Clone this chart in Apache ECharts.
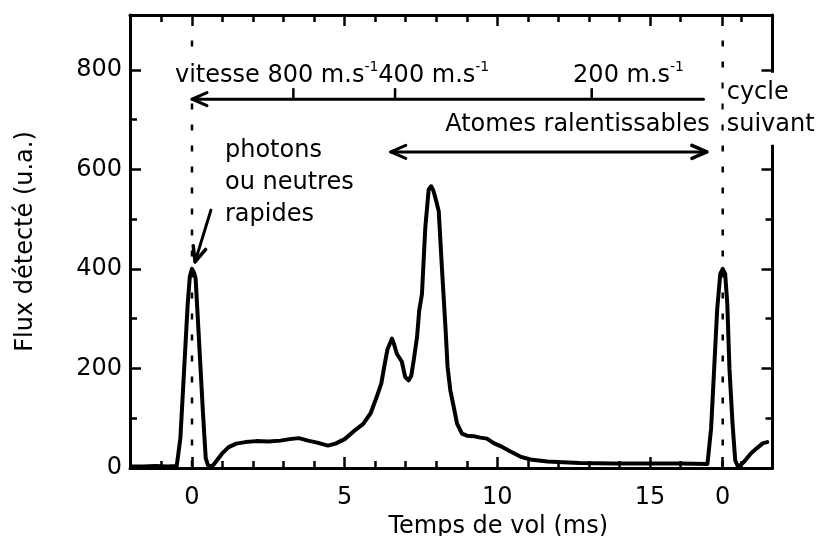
<!DOCTYPE html>
<html><head><meta charset="utf-8">
<script src="https://cdn.jsdelivr.net/npm/echarts@6/dist/echarts.min.js"></script>
<style>html,body{margin:0;padding:0;background:#fff}#c{width:817px;height:536px}</style>
</head><body><div id="c"></div>
<script>
// ---- data ----
const timeMs = [-2.0,-1.6,-1.2,-0.8,-0.5,-0.45,-0.38,-0.3,-0.22,-0.14,-0.07,0.0,0.07,0.12,0.2,0.28,0.36,0.45,0.52,0.6,0.7,0.85,1.0,1.2,1.45,1.75,2.1,2.5,2.9,3.2,3.5,3.8,4.1,4.45,4.7,5.0,5.3,5.6,5.85,6.05,6.2,6.3,6.4,6.55,6.62,6.71,6.87,6.98,7.09,7.18,7.26,7.37,7.44,7.53,7.64,7.75,7.83,7.9,7.97,8.08,8.19,8.3,8.37,8.46,8.57,8.68,8.84,9.0,9.22,9.44,9.66,9.88,10.1,10.43,10.75,11.08,11.63,12.7,13.8,15.0,16.0,16.88,16.93,17.0,17.1,17.2,17.3,17.38,17.46,17.53,17.6,17.7,17.79,17.87,17.95,18.1,18.3,18.5,18.7,18.84];
const flux = [3,3,4,3,4,5,60,150,240,330,385,400,392,380,290,200,110,20,6,3,6,18,30,42,49,52,54,53,55,58,60,55,51,45,49,58,74,88,110,143,170,205,238,260,248,229,214,183,176,185,216,263,316,349,483,559,566,558,543,516,396,283,203,156,123,89,69,65,64,61,59,50,44,33,23,17,13,10,9,9,9,8,6,80,200,320,390,400,390,330,200,90,15,4,5,14,29,40,50,52];

const xMajorTicks = [0, 5, 10, 15, 17.38];
const xMajorLabels = ['0', '5', '10', '15', '0'];
const xMinorTicks = [-1, 1, 2, 3, 4, 6, 7, 8, 9, 11, 12, 13, 14, 16, 18];
const yMajorTicks = [0, 200, 400, 600, 800];
const yMinorTicks = [100, 300, 500, 700];

const cycleStarts = [0, 17.38];
const dottedTop = 859;

const velocityTickTimes = [3.32, 6.65, 13.09];
const velocityLineY = 741;

const arrowX1 = [0, 6.51, 0.62];
const arrowY1 = [741, 635, 518];
const arrowX2 = [16.75, 16.86, 0.1];
const arrowY2 = [741, 635, 414];
const arrowHeadStart = [true, true, false];
const arrowHeadEnd = [false, true, true];

const annotationTexts = ['vitesse 800 m.s{sup|-1}400 m.s{sup|-1}', '200 m.s{sup|-1}', 'photons\nou neutres\nrapides', 'Atomes ralentissables', 'cycle\nsuivant'];
const annotationX = [-0.557, 12.48, 1.08, 8.29, 17.51];
const annotationY = [788, 788, 572.5, 689.6, 721.5];

const xAxisName = 'Temps de vol (ms)';
const yAxisName = 'Flux détecté (u.a.)';

// ---- chart ----
const FONT = 'DejaVu Sans';
const chart = echarts.init(document.getElementById('c'), null, {renderer: 'canvas'});

const X_MIN = -2.03, X_MAX = 19.01, Y_MIN = 0, Y_MAX = 910;
const gridBox = {left: 130, right: 44.5, top: 15, bottom: 68, outerBoundsMode: 'none', containLabel: false};

function xAxisCfg(gridIndex, position, ticks, major) {
  return {
    type: 'value', gridIndex, position, min: X_MIN, max: X_MAX,
    axisLine: {show: major, onZero: false, lineStyle: {color: '#000', width: 3}},
    axisTick: {show: true, inside: true, length: major ? 11 : 7, customValues: ticks, lineStyle: {color: '#000', width: 2.5}},
    axisLabel: (major && position === 'bottom') ? {
      show: true, customValues: ticks, margin: 18, color: '#000', fontSize: 24, fontFamily: FONT,
      formatter: v => { const i = xMajorTicks.indexOf(v); return i >= 0 ? xMajorLabels[i] : ''; }
    } : {show: false},
    splitLine: {show: false},
    name: (major && position === 'bottom') ? xAxisName : '',
    nameLocation: 'middle', nameGap: 45,
    nameTextStyle: {color: '#000', fontSize: 24, fontFamily: FONT, padding: [0, 0, 0, 94]}
  };
}
function yAxisCfg(gridIndex, position, ticks, major) {
  return {
    type: 'value', gridIndex, position, min: Y_MIN, max: Y_MAX,
    axisLine: {show: major, onZero: false, lineStyle: {color: '#000', width: 3}},
    axisTick: {show: true, inside: true, length: major ? 11 : 7, customValues: ticks, lineStyle: {color: '#000', width: 2.5}},
    axisLabel: (major && position === 'left') ? {
      show: true, customValues: ticks, margin: 8, color: '#000', fontSize: 24, fontFamily: FONT
    } : {show: false},
    splitLine: {show: false},
    name: (major && position === 'left') ? yAxisName : '',
    nameLocation: 'middle', nameGap: 92,
    nameTextStyle: {color: '#000', fontSize: 24, fontFamily: FONT}
  };
}

function chevron(tip, from, len, half) {
  const dx = tip[0] - from[0], dy = tip[1] - from[1];
  const L = Math.hypot(dx, dy) || 1, ux = dx / L, uy = dy / L;
  const bx = tip[0] - ux * len, by = tip[1] - uy * len;
  return [[bx - uy * half, by + ux * half], [tip[0], tip[1]], [bx + uy * half, by - ux * half]];
}

const option = {
  backgroundColor: '#fff',
  animation: false,
  grid: [Object.assign({}, gridBox), Object.assign({}, gridBox)],
  xAxis: [
    xAxisCfg(0, 'bottom', xMajorTicks, true),
    xAxisCfg(0, 'top', xMajorTicks, true),
    xAxisCfg(1, 'bottom', xMinorTicks, false),
    xAxisCfg(1, 'top', xMinorTicks, false)
  ],
  yAxis: [
    yAxisCfg(0, 'left', yMajorTicks, true),
    yAxisCfg(0, 'right', yMajorTicks, true),
    yAxisCfg(1, 'left', yMinorTicks, false),
    yAxisCfg(1, 'right', yMinorTicks, false)
  ],
  series: [
    {
      type: 'custom', name: 'cycles', xAxisIndex: 0, yAxisIndex: 0, z: 2,
      data: cycleStarts.map(t => [t, dottedTop]),
      encode: {x: 0, y: 1},
      renderItem: (params, api) => {
        const p0 = api.coord([api.value(0), api.value(1)]);
        const p1 = api.coord([api.value(0), 0]);
        return {type: 'line', shape: {x1: p0[0], y1: p0[1], x2: p1[0], y2: p1[1]},
          style: {stroke: '#000', lineWidth: 2.5, lineDash: [6, 15], fill: null}};
      }
    },
    {
      type: 'line', name: 'flux', xAxisIndex: 0, yAxisIndex: 0, z: 3,
      data: timeMs.map((t, i) => [t, flux[i]]),
      showSymbol: false, symbol: 'none', smooth: false,
      lineStyle: {color: '#000', width: 4, join: 'round', cap: 'round'}
    },
    {
      type: 'custom', name: 'texts', xAxisIndex: 0, yAxisIndex: 0, z: 4,
      data: annotationX.map((x, i) => [x, annotationY[i]]),
      encode: {x: 0, y: 1},
      renderItem: (params, api) => {
        const i = params.dataIndex;
        const p = api.coord([api.value(0), api.value(1)]);
        const txt = annotationTexts[i];
        const isVel = txt.indexOf('{sup|') >= 0;
        const isCycle = i === annotationTexts.length - 1;
        const pad = isVel ? [0, 3, 0, 3] : (isCycle ? [4, 4, 4, 3] : 0);
        const padLeft = Array.isArray(pad) ? pad[3] : 0;
        return {
          type: 'text', x: p[0] - padLeft, y: p[1],
          style: {
            text: txt, fill: '#000', fontSize: 24, fontFamily: FONT,
            align: 'left', verticalAlign: 'middle',
            lineHeight: isVel ? 30 : 32,
            backgroundColor: (isVel || isCycle) ? '#fff' : null,
            padding: pad,
            rich: {sup: {fontSize: 14, fontFamily: FONT, fill: '#000', verticalAlign: 'top', lineHeight: 6}}
          }
        };
      }
    },
    {
      type: 'custom', name: 'arrows', xAxisIndex: 0, yAxisIndex: 0, z: 5,
      data: arrowX1.map((x, i) => [x, arrowY1[i], arrowX2[i], arrowY2[i]]),
      encode: {x: [0, 2], y: [1, 3]},
      renderItem: (params, api) => {
        const i = params.dataIndex;
        const a = api.coord([api.value(0), api.value(1)]);
        const b = api.coord([api.value(2), api.value(3)]);
        const st = {stroke: '#000', lineWidth: 3, fill: null, lineCap: 'round', lineJoin: 'round'};
        const children = [{type: 'line', shape: {x1: a[0], y1: a[1], x2: b[0], y2: b[1]}, style: st}];
        if (arrowHeadStart[i]) children.push({type: 'polyline', shape: {points: chevron(a, b, 15, 6.5)}, style: st});
        if (arrowHeadEnd[i]) children.push({type: 'polyline', shape: {points: chevron(b, a, 15, 6.5)}, style: Object.assign({}, st, {lineWidth: 3.5})});
        return {type: 'group', children};
      }
    },
    {
      type: 'custom', name: 'velocityTicks', xAxisIndex: 0, yAxisIndex: 0, z: 5,
      data: velocityTickTimes.map(t => [t, velocityLineY]),
      encode: {x: 0, y: 1},
      renderItem: (params, api) => {
        const p = api.coord([api.value(0), api.value(1)]);
        return {type: 'line', shape: {x1: p[0], y1: p[1], x2: p[0], y2: p[1] - 11},
          style: {stroke: '#000', lineWidth: 2.5}};
      }
    }
  ]
};
chart.setOption(option);
</script>
</body></html>
